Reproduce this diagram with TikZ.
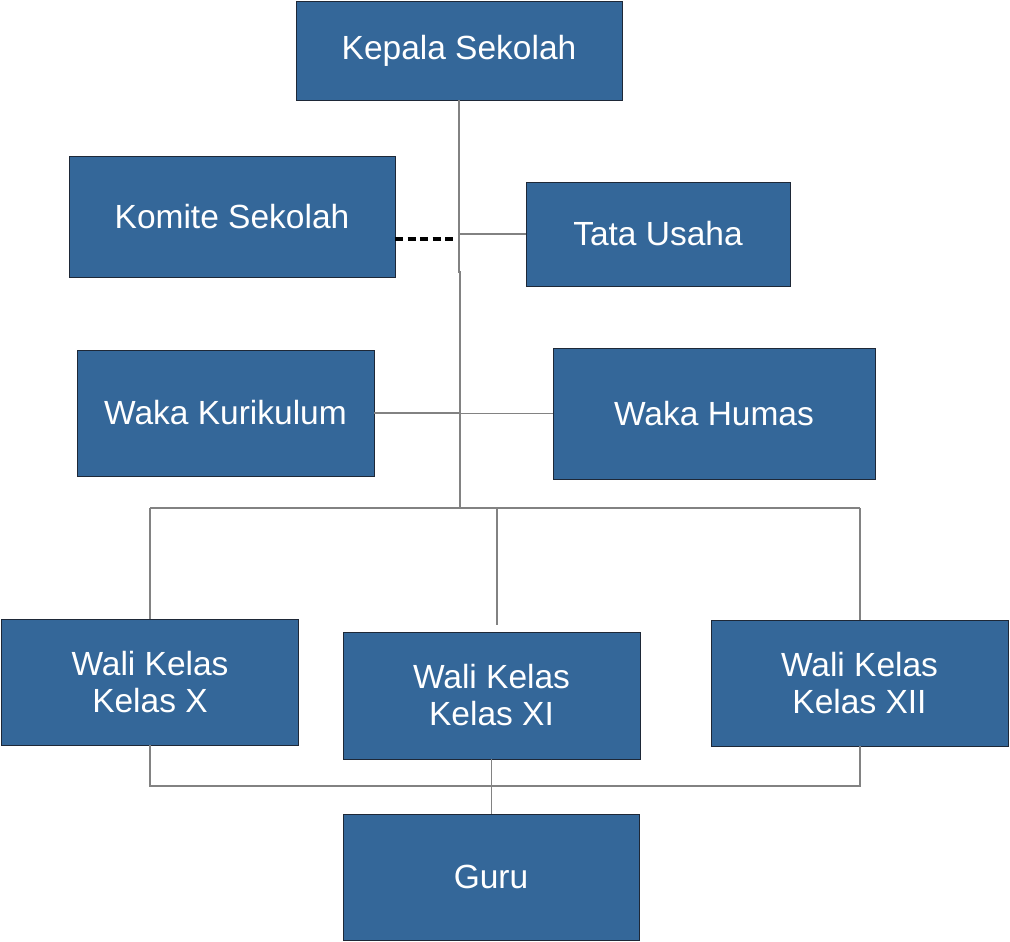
\documentclass[tikz,border=0pt]{standalone}
\usepackage{fontspec}
\setmainfont{Liberation Sans}
\definecolor{boxblue}{RGB}{52,103,153}
\definecolor{boxedge}{RGB}{30,40,55}
\definecolor{linegrey}{RGB}{130,130,130}
\begin{document}
\begin{tikzpicture}[x=1pt,y=-1pt,
  orgbox/.style={draw=boxedge,line width=0.9pt,fill=boxblue,text=white,align=center,
    inner sep=0pt,font=\fontsize{33.5}{37}\selectfont},
  conn/.style={draw=linegrey,line width=1.1pt},
  dconn/.style={draw=black,line width=3.2pt,dash pattern=on 8pt off 4.5pt}]
\useasboundingbox (0,0) rectangle (1010,942);
\node[orgbox,minimum width=326pt,minimum height=99pt] (kepala) at (459,50.5) {Kepala Sekolah};
\node[orgbox,minimum width=326pt,minimum height=121pt] (komite) at (232,216.5) {Komite Sekolah};
\node[orgbox,minimum width=264pt,minimum height=104pt] (tata) at (658,234) {Tata Usaha};
\node[orgbox,minimum width=297pt,minimum height=126pt] (kuri) at (225.5,413) {Waka Kurikulum};
\node[orgbox,minimum width=322pt,minimum height=131pt] (humas) at (714,413.5) {Waka Humas};
\node[orgbox,minimum width=297pt,minimum height=126pt] (wx) at (150,682) {Wali Kelas\\Kelas X};
\node[orgbox,minimum width=297pt,minimum height=127pt] (wxi) at (491.5,695.5) {Wali Kelas\\Kelas XI};
\node[orgbox,minimum width=297pt,minimum height=126pt] (wxii) at (859.5,683) {Wali Kelas\\Kelas XII};
\node[orgbox,minimum width=296pt,minimum height=126pt] (guru) at (491,877) {Guru};
\coordinate (t1) at (459,272);
\coordinate (t2) at (460,272);
\coordinate (bus) at (460,508);
\coordinate (busL) at (150,508);
\coordinate (busR) at (860,508);
\coordinate (midtop) at (497,625);
\coordinate (bot) at (491,786);
\coordinate (kd1) at (395,239);
\coordinate (kd2) at (456,239);
\draw[conn] (kepala.south) -- (t1) -- (t2) -- (bus);
\draw[conn] (tata.west) -- (tata.west -| kepala.south);
\draw[dconn] (kd1) -- (kd2);
\draw[conn] (kuri.east) -- (kuri.east -| bus);
\draw[conn] (humas.west) -- (humas.west -| bus);
\draw[conn] (busL) -- (busR);
\draw[conn] (busL) -- (wx.north);
\draw[conn] (busR) -- (busR |- wxii.north);
\draw[conn] (midtop |- bus) -- (midtop);
\draw[conn] (wx.south) -- (wx.south |- bot) -- (busR |- bot) -- (busR |- wxii.south);
\draw[conn] (wxi.south) -- (wxi.south |- guru.north);
\end{tikzpicture}
\end{document}
